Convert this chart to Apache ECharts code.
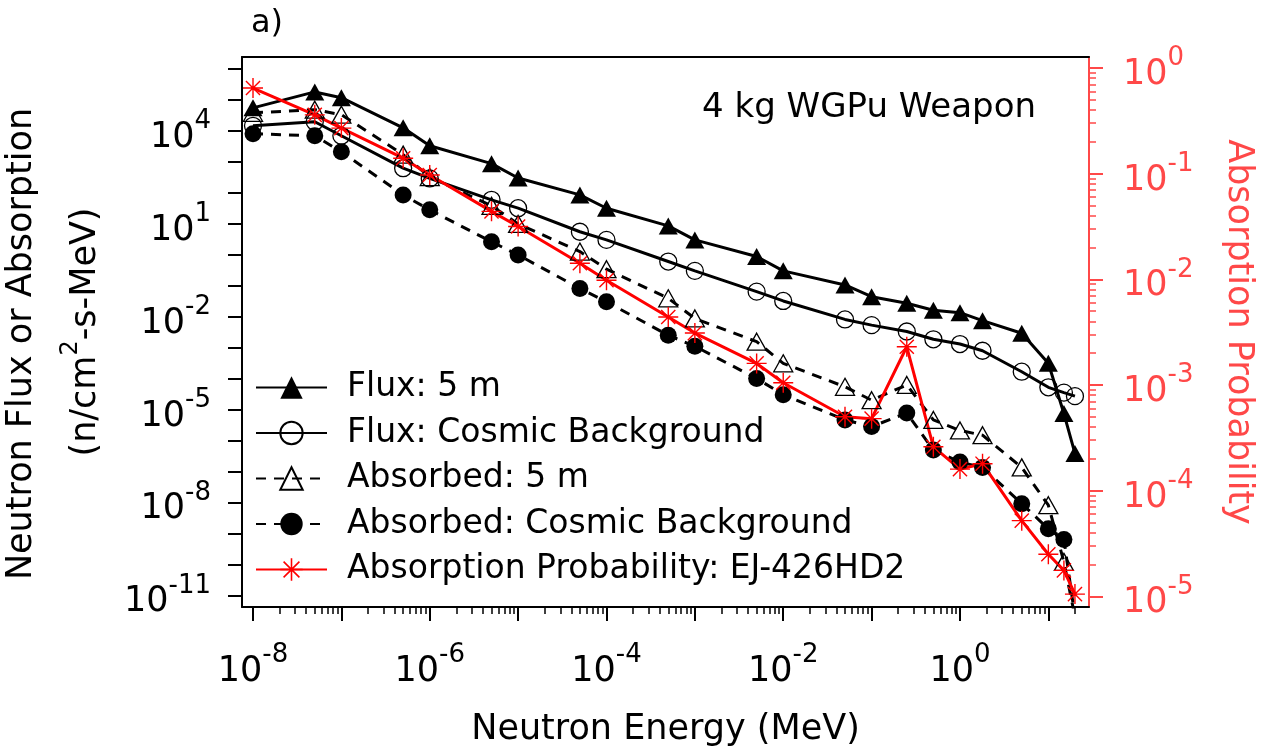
<!DOCTYPE html>
<html>
<head>
<meta charset="utf-8">
<script src="https://cdn.jsdelivr.net/npm/echarts@6/dist/echarts.min.js"></script>
<style>
  html, body { margin: 0; padding: 0; background: #fff; }
  #chart { width: 1273px; height: 746px; }
</style>
</head>
<body>
<div id="chart"></div>
<script>
// energies (MeV) shared by all traces
const energy = [1e-8, 5e-8, 1e-7, 5e-7, 1e-6, 5e-6, 1e-5, 5e-5, 1e-4, 5e-4, 1e-3, 5e-3,
  1e-2, 5e-2, 0.1, 0.25, 0.5, 1, 1.8, 5, 10, 15, 20];

// n/cm2-s-MeV
const flux5m = [5.5e4, 1.8e5, 1.17e5, 1.25e4, 3.3e3, 870, 300, 85, 31.6, 8.5, 3.0, 0.87,
  0.30, 0.105, 0.044, 0.027, 0.016, 0.0134, 0.0074, 2.9e-3, 3.1e-4, 7.4e-6, 3.8e-7];
const fluxCosmic = [1.45e4, 1.96e4, 6.9e3, 620, 290, 59, 31.7, 5.5, 3.0, 0.6, 0.3, 0.064,
  0.032, 8.1e-3, 5.3e-3, 3.3e-3, 1.85e-3, 1.3e-3, 7.9e-4, 1.66e-4, 5.2e-5, 3.5e-5, 2.7e-5];
const absorbed5m = [3.8e4, 4.8e4, 3.3e4, 1.7e3, 320, 37.6, 9.8, 1.26, 0.34, 0.039, 8.7e-3, 1.55e-3,
  3.1e-4, 5.4e-5, 2.0e-5, 6.2e-5, 4.6e-6, 2.1e-6, 1.48e-6, 1.35e-7, 8.1e-9, 1.2e-10, 2e-12];
const absorbedCosmic = [8e3, 6.9e3, 2.1e3, 85, 28, 2.6, 0.98, 0.081, 0.030, 2.5e-3, 1.1e-3, 1.0e-4,
  3.0e-5, 4.6e-6, 2.8e-6, 7.7e-6, 4.9e-7, 2.0e-7, 1.35e-7, 9.1e-9, 1.4e-9, 6.3e-10, 2e-12];
// right axis
const absProb = [0.646, 0.36, 0.27, 0.14, 0.097, 0.044, 0.0316, 0.0142, 9.8e-3, 4.4e-3, 3.1e-3, 1.6e-3,
  1.05e-3, 5.0e-4, 4.8e-4, 2.3e-3, 2.6e-4, 1.6e-4, 1.8e-4, 5.2e-5, 2.5e-5, 1.76e-5, 1.05e-5];

const seriesNames = ["Flux: 5 m", "Flux: Cosmic Background", "Absorbed: 5 m",
  "Absorbed: Cosmic Background", "Absorption Probability: EJ-426HD2"];

// ticks
const xMajor = [1e-8, 1e-7, 1e-6, 1e-5, 1e-4, 1e-3, 1e-2, 1e-1, 1e0, 1e1];
const xLabels = [1e-8, 1e-6, 1e-4, 1e-2, 1e0];
const leftMajor = [1e-11, 1e-10, 1e-9, 1e-8, 1e-7, 1e-6, 1e-5, 1e-4, 1e-3, 1e-2, 1e-1, 1e0,
  1e1, 1e2, 1e3, 1e4, 1e5, 1e6];
const leftLabels = [1e-11, 1e-8, 1e-5, 1e-2, 1e1, 1e4];
const rightMajor = [1e-5, 1e-4, 1e-3, 1e-2, 1e-1, 1e0];

const X_MIN = Math.pow(10, -8.1245), X_MAX = Math.pow(10, 1.46);
const YL_MIN = Math.pow(10, -11.378), YL_MAX = Math.pow(10, 6.383);
const YR_MIN = Math.pow(10, -5.101), YR_MAX = Math.pow(10, 0.104);

function minorTicks(majors, max) {
  const out = [];
  majors.forEach(m => {
    for (let k = 2; k <= 9; k++) if (m * k <= max) out.push(m * k);
  });
  return out;
}

const FONT = "DejaVu Sans";
const RED = "#ff0000";
const AXIS_RED = "#ff4848";

// "10" with raised exponent; both tokens middle-aligned, offsets done with padding
const supRich = {
  b: { fontSize: 35, lineHeight: 35, padding: [14, 0, 0, 0], fontFamily: FONT },
  s: { fontSize: 26, lineHeight: 26, padding: [0, 0, 19, 0], fontFamily: FONT }
};
const powLabel = v => "{b|10}{s|" + Math.round(Math.log10(v)) + "}";

const asterisk = "path://M0,9.3L20,9.3L20,10.7L0,10.7Z M9.3,0L10.7,0L10.7,20L9.3,20Z " +
  "M2.44,3.43L3.43,2.44L17.56,16.57L16.57,17.56Z M16.57,2.44L17.56,3.43L3.43,17.56L2.44,16.57Z";

const pairs = arr => energy.map((e, i) => [e, arr[i]]);

const chart = echarts.init(document.getElementById("chart"));

chart.setOption({
  animation: false,
  backgroundColor: "#fff",
  textStyle: { fontFamily: FONT },
  title: [
    { text: "a)", left: 246, top: 3, textStyle: { fontSize: 32, fontWeight: "normal", color: "#000", fontFamily: FONT } },
    { text: "4 kg WGPu Weapon", left: 697, top: 86, textStyle: { fontSize: 34, fontWeight: "normal", color: "#000", fontFamily: FONT } }
  ],
  grid: { left: 242, top: 57, width: 847, height: 550, containLabel: false, outerBoundsMode: "none" },
  legend: {
    orient: "vertical",
    left: 250, top: 366,
    itemWidth: 71, itemHeight: 28, itemGap: 12.5,
    selectedMode: false,
    textStyle: { fontSize: 33, lineHeight: 28, color: "#000", fontFamily: FONT, padding: [0, 0, 0, 15] },
    data: seriesNames
  },
  xAxis: [
    {
      type: "log", min: X_MIN, max: X_MAX, position: "bottom",
      axisLine: { lineStyle: { color: "#000", width: 2 } },
      axisTick: { customValues: xMajor, length: 14, lineStyle: { color: "#000", width: 2 } },
      axisLabel: { customValues: xLabels, margin: 40, color: "#000", formatter: powLabel, rich: supRich },
      splitLine: { show: false },
      name: "Neutron Energy (MeV)", nameLocation: "middle", nameGap: 105,
      nameTextStyle: { fontSize: 35, color: "#000", fontFamily: FONT }
    },
    {
      type: "log", min: X_MIN, max: X_MAX, position: "bottom",
      axisLine: { show: false },
      axisTick: { customValues: minorTicks(xMajor, X_MAX), length: 7, lineStyle: { color: "#000", width: 1.5 } },
      axisLabel: { show: false },
      splitLine: { show: false }
    },
    {
      type: "log", min: X_MIN, max: X_MAX, position: "top",
      axisLine: { lineStyle: { color: "#000", width: 2 } },
      axisTick: { show: false }, axisLabel: { show: false }, splitLine: { show: false }
    }
  ],
  yAxis: [
    {
      type: "log", min: YL_MIN, max: YL_MAX, position: "left",
      axisLine: { lineStyle: { color: "#000", width: 2 } },
      axisTick: { customValues: leftMajor, length: 14, lineStyle: { color: "#000", width: 2 } },
      axisLabel: { customValues: leftLabels, margin: 31, color: "#000", formatter: powLabel, rich: supRich },
      splitLine: { show: false },
      name: "{t1|Neutron Flux or Absorption}\n{t|(n/cm}{u|2}{t|-s-MeV)}",
      nameLocation: "middle", nameRotate: 90, nameGap: 101,
      nameTextStyle: {
        color: "#000",
        rich: {
          t1: { fontSize: 35, lineHeight: 64, padding: [0, 24, 0, 0], fontFamily: FONT },
          t: { fontSize: 35, lineHeight: 64, fontFamily: FONT },
          u: { fontSize: 24, lineHeight: 24, padding: [0, 0, 30, 0], fontFamily: FONT }
        }
      }
    },
    {
      type: "log", min: YR_MIN, max: YR_MAX, position: "right",
      axisLine: { lineStyle: { color: AXIS_RED, width: 2 } },
      axisTick: { customValues: rightMajor, length: 14, lineStyle: { color: AXIS_RED, width: 2 } },
      axisLabel: { customValues: rightMajor, margin: 34, color: AXIS_RED, formatter: powLabel, rich: supRich },
      splitLine: { show: false },
      name: "Absorption Probability", nameLocation: "middle", nameRotate: -90, nameGap: 132,
      nameTextStyle: { fontSize: 35, color: AXIS_RED, fontFamily: FONT }
    },
    {
      type: "log", min: YR_MIN, max: YR_MAX, position: "right",
      axisLine: { show: false },
      axisTick: { customValues: minorTicks(rightMajor, YR_MAX), length: 7, lineStyle: { color: AXIS_RED, width: 1.5 } },
      axisLabel: { show: false },
      splitLine: { show: false }
    }
  ],
  series: [
    {
      name: seriesNames[0], type: "line", data: pairs(flux5m),
      symbol: "triangle", symbolSize: [19, 17],
      itemStyle: { color: "#000" },
      lineStyle: { color: "#000", width: 3 }
    },
    {
      name: seriesNames[1], type: "line", data: pairs(fluxCosmic),
      symbol: "circle", symbolSize: 17,
      itemStyle: { color: "rgba(255,255,255,0)", borderColor: "#000", borderWidth: 1.3 },
      lineStyle: { color: "#000", width: 3 }
    },
    {
      name: seriesNames[2], type: "line", data: pairs(absorbed5m),
      symbol: "triangle", symbolSize: [19, 17],
      itemStyle: { color: "rgba(255,255,255,0)", borderColor: "#000", borderWidth: 1.3 },
      lineStyle: { color: "#000", width: 3, type: [10, 8] }
    },
    {
      name: seriesNames[3], type: "line", data: pairs(absorbedCosmic),
      symbol: "circle", symbolSize: 17,
      itemStyle: { color: "#000" },
      lineStyle: { color: "#000", width: 3, type: [10, 8] }
    },
    {
      name: seriesNames[4], type: "line", data: pairs(absProb), yAxisIndex: 1,
      symbol: asterisk, symbolSize: 20,
      itemStyle: { color: RED },
      lineStyle: { color: RED, width: 3 }
    }
  ]
});
</script>
</body>
</html>
